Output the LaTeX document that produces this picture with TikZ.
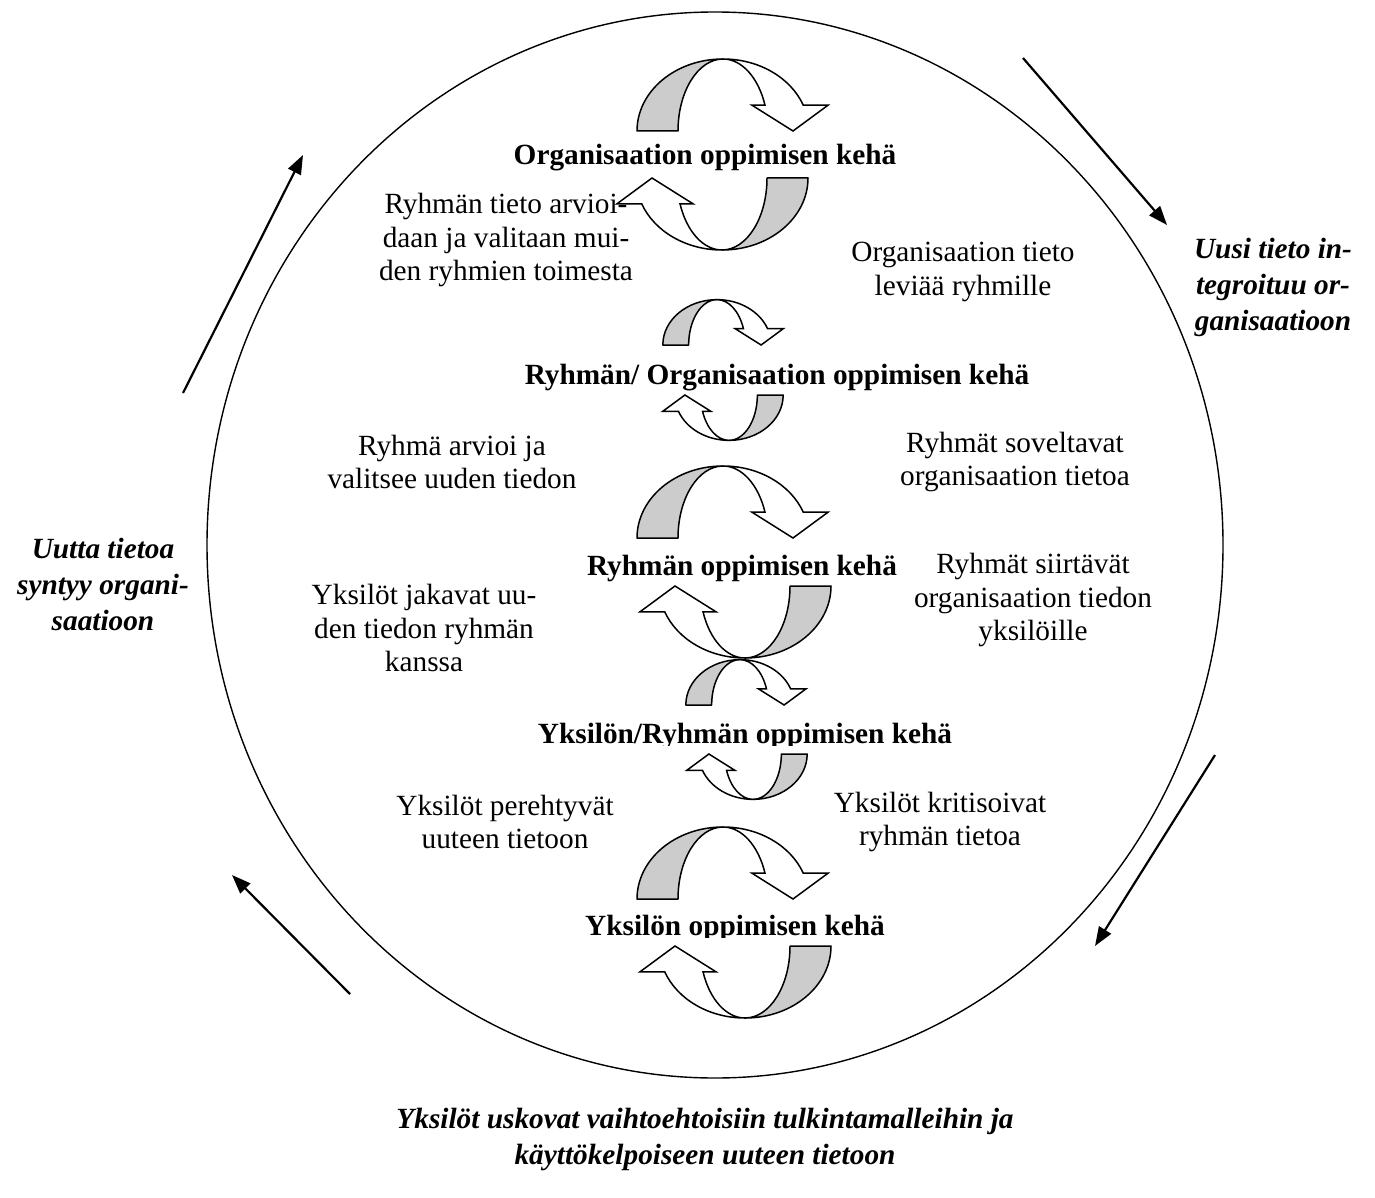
\documentclass[tikz,border=0pt]{standalone}
\usepackage{fontspec}
\setmainfont{Liberation Serif}
\usetikzlibrary{arrows.meta,shapes.geometric}
\definecolor{bandgray}{RGB}{204,204,204}
\tikzset{
  txt/.style={font=\fontsize{29.3}{33.7}\selectfont, align=center, inner sep=0pt},
  head/.style={txt, font=\fontsize{29.3}{33.7}\selectfont\bfseries},
  side/.style={txt, font=\fontsize{29.3}{36}\selectfont\bfseries\itshape},
  flow/.style={line width=2.2pt, -{Triangle[length=19pt,width=14pt]}},
  % half-turn ribbon arrow: shaded back on the left, white front ending in a head
  turn/.pic={
    \filldraw[fill=bandgray, line width=1.5pt, line join=round]
      (-86,0) arc[start angle=180, end angle=90, x radius=86, y radius=72]
      arc[start angle=90, end angle=180, x radius=45, y radius=72] -- cycle;
    \filldraw[fill=white, line width=1.5pt, line join=miter]
      (0,72) arc[start angle=90, end angle=21, x radius=86, y radius=72]
      -- (105,25.8) -- (70,0) -- (29,25.8) -- (42,25.8)
      arc[start angle=21, end angle=90, x radius=45, y radius=72] -- cycle;
  }
}
\begin{document}
\begin{tikzpicture}[x=1pt, y=1pt]
\useasboundingbox (0,0) rectangle (1375,-1198);

% outer cycle
\node[ellipse, draw, line width=1.4pt, minimum width=1016pt, minimum height=1066pt, inner sep=0pt] (ring) at (715,-545) {};

% labels of the learning levels
\node[head] (lvl1) at (705,-158) {Organisaation oppimisen kehä};
\node[head] (lvl2) at (777,-378) {Ryhmän/ Organisaation oppimisen kehä};
\node[head] (lvl3) at (742,-568) {Ryhmän oppimisen kehä};
\begin{scope}
  \clip (450,-700) rectangle (1050,-745);
  \node[head] (lvl4) at (745,-736.5) {Yksilön/Ryhmän oppimisen kehä};
\end{scope}
\begin{scope}
  \clip (450,-890) rectangle (1050,-937.5);
  \node[head] (lvl5) at (735,-928.5) {Yksilön oppimisen kehä};
\end{scope}

% descriptions between the levels
\node[txt] (d1) at (506,-240) {Ryhmän tieto arvioi-\\daan ja valitaan mui-\\den ryhmien toimesta};
\node[txt] (d2) at (963,-272) {Organisaation tieto\\leviää ryhmille};
\node[txt] (d3) at (452,-462) {Ryhmä arvioi ja\\valitsee uuden tiedon};
\node[txt] (d4) at (1015,-462) {Ryhmät soveltavat\\organisaation tietoa};
\node[txt] (d5) at (1033,-600) {Ryhmät siirtävät\\organisaation tiedon\\yksilöille};
\node[txt] (d6) at (424,-628) {Yksilöt jakavat uu-\\den tiedon ryhmän\\kanssa};
\node[txt] (d7) at (505,-822) {Yksilöt perehtyvät\\uuteen tietoon};
\node[txt] (d8) at (940,-822) {Yksilöt kritisoivat\\ryhmän tietoa};

% captions outside the cycle
\node[side] (s1) at (1273,-287) {Uusi tieto in-\\tegroituu or-\\ganisaatioon};
\node[side] (s2) at (103,-584) {Uutta tietoa\\syntyy organi-\\saatioon};
\node[side] (s3) at (705,-1139) {Yksilöt uskovat vaihtoehtoisiin tulkintamalleihin ja\\käyttökelpoiseen uuteen tietoon};

% ribbon arrows of each level
\pic at (723,-131) {turn};
\pic[rotate=180] at (722,-178) {turn};
\pic[scale=0.63] at (717,-345) {turn};
\pic[scale=0.63, rotate=180] at (729,-395) {turn};
\pic at (723,-538) {turn};
\pic[rotate=180] at (745,-586) {turn};
\pic[scale=0.63] at (740,-705) {turn};
\pic[scale=0.63, rotate=180] at (753,-754) {turn};
\pic at (723,-899) {turn};
\pic[rotate=180] at (745,-946) {turn};

% straight arrows around the cycle
\coordinate (a1s) at (183,-393);  \coordinate (a1e) at (303,-155);
\coordinate (a2s) at (1023,-58);  \coordinate (a2e) at (1167,-225);
\coordinate (a3s) at (1215,-755); \coordinate (a3e) at (1095,-946);
\coordinate (a4s) at (350,-994);  \coordinate (a4e) at (232,-875);
\draw[flow] (a1s) -- (a1e);
\draw[flow] (a2s) -- (a2e);
\draw[flow] (a3s) -- (a3e);
\draw[flow] (a4s) -- (a4e);
\end{tikzpicture}
\end{document}
